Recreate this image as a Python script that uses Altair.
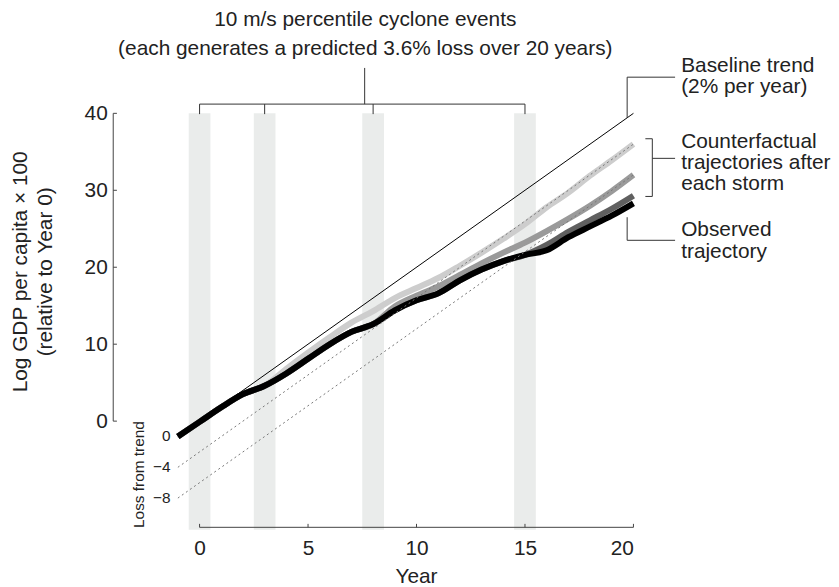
import altair as alt
import pandas as pd

FONT = "Liberation Sans"
FS = 21

# ---------------- data ----------------
years = list(range(-1, 21))
observed = [-2.0, -0.1, 1.8, 3.5, 4.6, 6.2, 8.1, 10.0, 11.6, 12.6, 14.4,
            15.7, 16.6, 18.3, 19.7, 20.8, 21.6, 22.2, 23.9, 25.3, 26.7, 28.3]
# counterfactual after storm 1 (diverges after year 3)
cf_after_1 = observed[:5] + [6.8, 8.9, 10.9, 12.8, 14.3, 16.0, 17.3, 18.6, 20.2,
                             21.9, 23.7, 25.6, 27.8, 29.7, 31.9, 33.9, 36.0]
# counterfactual after storm 2 (diverges after year 8)
cf_after_2 = observed[:10] + [14.9, 16.3, 17.5, 19.0, 20.5, 21.9, 23.2, 24.7,
                              26.3, 28.0, 29.9, 32.0]
# counterfactual after storm 3 (diverges after year 15)
cf_after_3 = observed[:17] + [22.9, 24.6, 26.1, 27.6, 29.3]

trend_years = [-1, 20]
baseline_trend = [-2, 40]
trend_minus_4 = [-6, 36]
trend_minus_8 = [-10, 32]

event_years = [0, 3, 8, 15]
x_ticks = [0, 5, 10, 15, 20]
y_ticks = [0, 10, 20, 30, 40]
loss_values = [-2, -6, -10]
loss_labels = ["0", "\u22124", "\u22128"]

series_names = ["After storm 1", "After storm 2", "After storm 3", "Observed"]
series_values = [cf_after_1, cf_after_2, cf_after_3, observed]
series_colors = ["#cdcdcd", "#9a9a9a", "#606060", "#000000"]

X_MIN, X_MAX = -3.98, 20
Y_MIN, Y_MAX = -13.8, 40

xs = alt.Scale(domain=[X_MIN, X_MAX], nice=False, zero=False)
ys = alt.Scale(domain=[Y_MIN, Y_MAX], nice=False, zero=False)

X_AXIS = alt.Axis(values=x_ticks, domain=False, ticks=False, grid=False,
                  labelPadding=10, title=None, labelFont=FONT,
                  labelFontSize=FS, labelColor="#222")
Y_AXIS = alt.Axis(values=y_ticks, domain=False, ticks=False, grid=False,
                  labelPadding=6, title=None, labelFont=FONT,
                  labelFontSize=FS, labelColor="#222")


def X(field="x"):
    return alt.X(field, type="quantitative", scale=xs, axis=X_AXIS)


def Y(field="y"):
    return alt.Y(field, type="quantitative", scale=ys, axis=Y_AXIS)


# ---------------- layers ----------------
bands_df = pd.DataFrame({
    "x": [e - 0.5 for e in event_years],
    "x2": [e + 0.5 for e in event_years],
    "y": [-14.1] * len(event_years),
    "y2": [40] * len(event_years),
})
bands = alt.Chart(bands_df).mark_rect(color="#eaeceb").encode(
    x=X(), x2="x2", y=Y(), y2="y2")

layers = [bands]

for name, vals, col in zip(series_names, series_values, series_colors):
    df = pd.DataFrame({"x": years, "y": vals})
    layers.append(
        alt.Chart(df).mark_line(color=col, strokeWidth=6, interpolate="monotone",
                                strokeCap="butt", strokeJoin="round").encode(
            x=X(), y=Y())
    )

base_df = pd.DataFrame({"x": trend_years, "y": baseline_trend})
layers.append(alt.Chart(base_df).mark_line(color="#000", strokeWidth=1).encode(x=X(), y=Y()))

for vals in (trend_minus_4, trend_minus_8):
    d = pd.DataFrame({"x": trend_years, "y": vals})
    layers.append(alt.Chart(d).mark_line(color="#777", strokeWidth=1,
                                         strokeDash=[2, 3]).encode(x=X(), y=Y()))

# axis lines, ticks, brackets, leaders as segments
segs = []
segs.append((X_MIN, 0, X_MIN, 40))
for v in y_ticks:
    segs.append((X_MIN, v, X_MIN + 0.17, v))
segs.append((0, Y_MIN, 20, Y_MIN))
for v in x_ticks:
    segs.append((v, Y_MIN, v, Y_MIN + 0.45))
axis_df = pd.DataFrame(segs, columns=["x", "y", "x2", "y2"])
layers.append(alt.Chart(axis_df).mark_rule(color="#444", strokeWidth=1).encode(
    x=X(), y=Y(), x2="x2", y2="y2"))

ann = []
br_y, tick_y = 41.2, 39.9
ann.append((event_years[0], br_y, event_years[-1], br_y))
for e in event_years:
    ann.append((e, br_y, e, tick_y))
ann.append((7.61, br_y, 7.61, 45.9))
# baseline leader
ann.append((19.71, 44.7, 21.92, 44.7))
ann.append((19.71, 44.7, 19.71, 39.4))
# counterfactual bracket
ann.append((20.87, 36.7, 20.87, 29.2))
ann.append((20.55, 36.7, 20.87, 36.7))
ann.append((20.55, 29.2, 20.87, 29.2))
ann.append((20.87, 34.15, 21.92, 34.15))
# observed leader
ann.append((19.71, 26.5, 19.71, 23.5))
ann.append((19.71, 23.5, 21.92, 23.5))
ann_df = pd.DataFrame(ann, columns=["x", "y", "x2", "y2"])
layers.append(alt.Chart(ann_df).mark_rule(color="#333", strokeWidth=1).encode(
    x=X(), y=Y(), x2="x2", y2="y2"))


def text_layer(rows, align="left", angle=0, size=FS, baseline="middle", line_height=None):
    df = pd.DataFrame(rows, columns=["x", "y", "t"])
    kw = dict(align=align, baseline=baseline, angle=angle, font=FONT,
              fontSize=size, color="#222", lineBreak="\n")
    if line_height is not None:
        kw["lineHeight"] = line_height
    return alt.Chart(df).mark_text(**kw).encode(x=X(), y=Y(), text="t:N")


# title above (anchor = first line)
layers.append(text_layer([
    (7.64, 52.13, "10 m/s percentile cyclone events\n"
                  "(each generates a predicted 3.6% loss over 20 years)"),
], align="center", line_height=29))

# right annotations (anchor = first line)
layers.append(text_layer([(22.2, 46.13, "Baseline trend\n(2% per year)")], line_height=21.5))
layers.append(text_layer([(22.2, 36.32, "Counterfactual\ntrajectories after\neach storm")],
                         line_height=21.5))
layers.append(text_layer([(22.2, 24.77, "Observed\ntrajectory")], line_height=21.5))

# loss labels
layers.append(text_layer([(-1.34, v, t) for v, t in zip(loss_values, loss_labels)],
                         align="right", size=15.5))
layers.append(text_layer([(-2.79, -6.94, "Loss from trend")], align="center",
                         angle=270, size=15.5))

# y axis title
layers.append(text_layer([
    (-8.21, 19.4, "Log GDP per capita \u00d7 100\n(relative to Year 0)"),
], align="center", angle=270, line_height=25))

# x axis title
layers.append(text_layer([(10, -21.0, "Year")], align="center", baseline="alphabetic"))

chart = alt.layer(*layers).properties(
    width=524, height=417,
    padding={"left": 106, "top": 104, "right": 199, "bottom": 58},
    autosize=alt.AutoSizeParams(type="none"),
).configure_view(strokeWidth=0)

chart.save("out.html", embed_options={"renderer": "svg", "actions": False})
